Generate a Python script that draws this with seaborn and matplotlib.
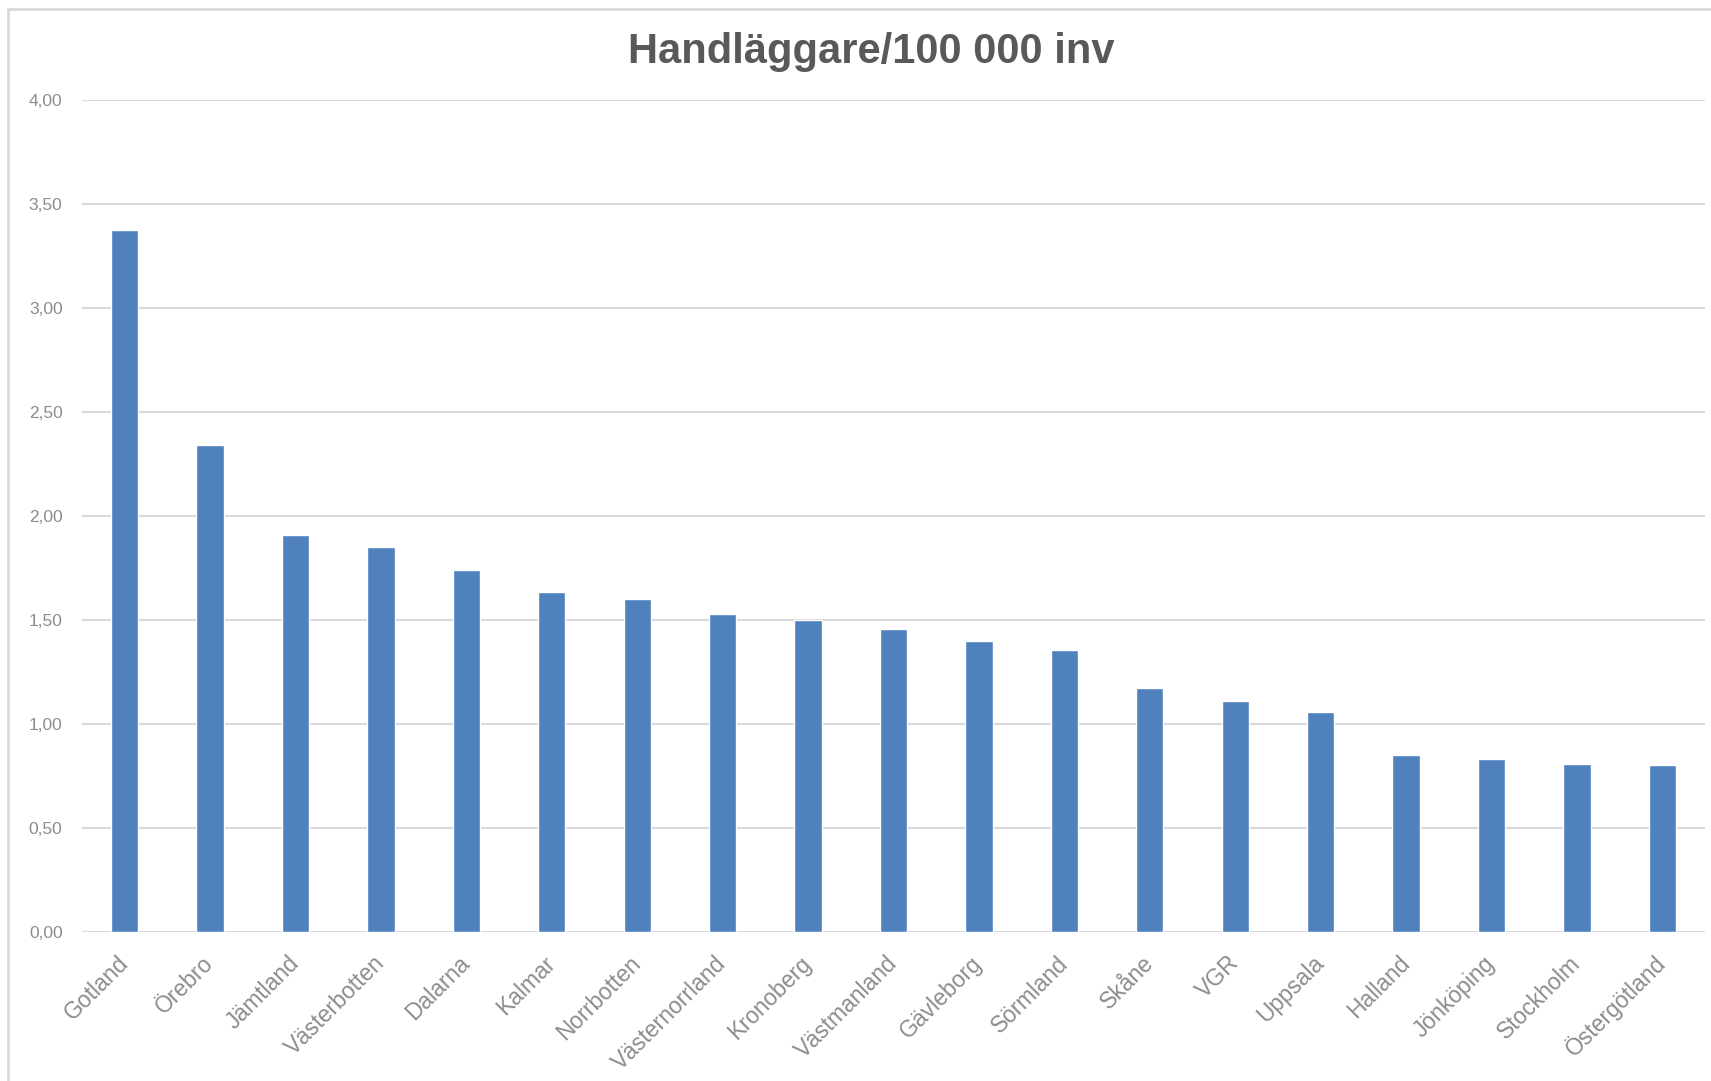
import matplotlib
matplotlib.use("Agg")
import matplotlib.pyplot as plt
import seaborn as sns
import pandas as pd
from matplotlib.patches import Rectangle

regions = ["Gotland", "Örebro", "Jämtland", "Västerbotten", "Dalarna", "Kalmar",
           "Norrbotten", "Västernorrland", "Kronoberg", "Västmanland", "Gävleborg",
           "Sörmland", "Skåne", "VGR", "Uppsala", "Halland", "Jönköping",
           "Stockholm", "Östergötland"]
values = [3.375, 2.34, 1.91, 1.85, 1.74, 1.635, 1.60, 1.53, 1.50, 1.457, 1.40,
          1.356, 1.173, 1.11, 1.058, 0.85, 0.832, 0.808, 0.803]
y_ticks = [0.0, 0.5, 1.0, 1.5, 2.0, 2.5, 3.0, 3.5, 4.0]
y_tick_labels = ["0,00", "0,50", "1,00", "1,50", "2,00", "2,50", "3,00", "3,50", "4,00"]
title = "Handläggare/100 000 inv"

sns.set_theme(style="white")
plt.rcParams['font.family'] = ['Liberation Sans', 'DejaVu Sans']

df = pd.DataFrame({"region": regions, "value": values})

W, H = 1711, 1081
fig = plt.figure(figsize=(W / 100, H / 100), dpi=100)
fig.patch.set_facecolor("white")

# outer chart frame
fig.patches.append(Rectangle((8 / W, 1 - 1100 / H), (1720 - 8) / W, (1100 - 9) / H,
                             transform=fig.transFigure, fill=False,
                             edgecolor="#d9d9d9", linewidth=2, zorder=0))

ax = fig.add_axes([82 / W, 1 - 932 / H, (1705 - 82) / W, (932 - 100) / H])
sns.barplot(data=df, x="region", y="value", color="#4f81bd", width=0.32,
            saturation=1, ax=ax, zorder=3)

ax.set_xlim(-0.5, len(regions) - 0.5)
ax.set_ylim(0, 4.0)
ax.set_yticks(y_ticks)
ax.set_yticklabels(y_tick_labels)
ax.yaxis.grid(True, color="#d9d9d9", linewidth=1.5, zorder=0)
ax.set_axisbelow(True)
for s in ax.spines.values():
    s.set_visible(False)
ax.tick_params(axis="y", length=0, pad=14, labelsize=12.5, labelcolor="#8c8c8c")
ax.tick_params(axis="x", length=0, pad=20, labelsize=16.5, labelcolor="#8c8c8c")
for lab in ax.get_xticklabels():
    lab.set_rotation(45)
    lab.set_ha("right")
    lab.set_va("center")
    lab.set_rotation_mode("anchor")
ax.set_xlabel("")
ax.set_ylabel("")

fig.text(871 / W, 1 - 52 / H, title, ha="center", va="center",
         fontsize=30, fontweight="bold", color="#595959")

fig.savefig("out.png", dpi=100, facecolor="white")
